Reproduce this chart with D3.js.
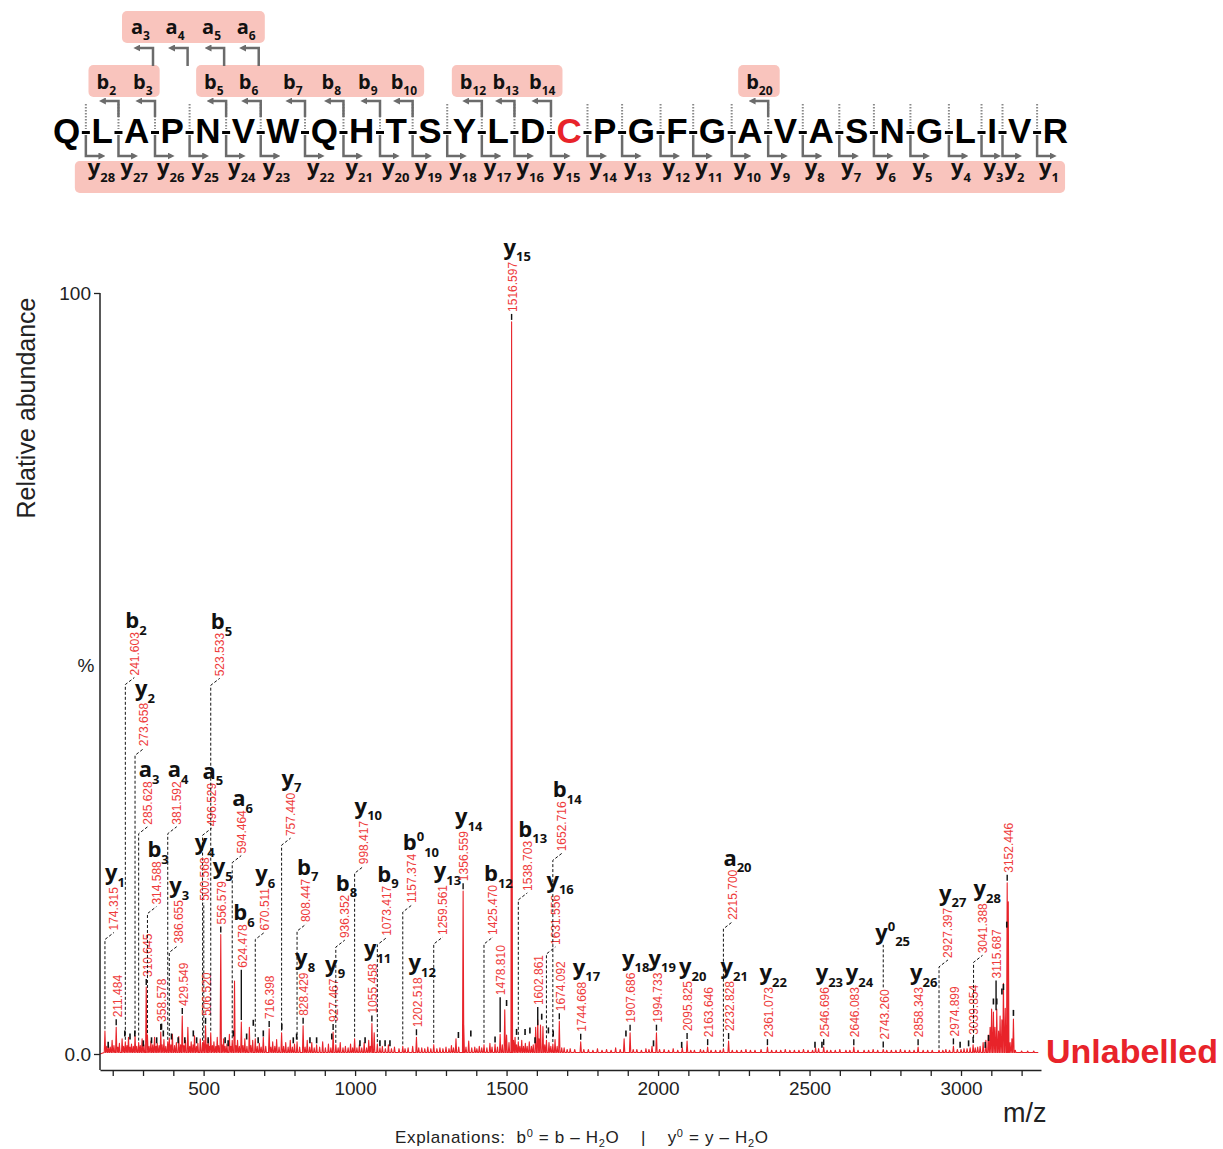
<!DOCTYPE html>
<html>
<head>
<meta charset="utf-8">
<script src="https://cdn.jsdelivr.net/npm/d3@7"></script>
<style>
  body { margin: 0; background: #fff; }
  svg { font-family: "Liberation Sans", Arial, sans-serif; }
</style>
</head>
<body>
<div id="chart"></div>
<script>
// peptide and the fragment ions that were observed
var sequence = "QLAPNVWQHTSYLDCPGFGAVASNGLIVR".split("");
var redResidue = 14;
var bIons = [2, 3, 5, 6, 7, 8, 9, 10, 12, 13, 14, 20];
var aIons = [3, 4, 5, 6];
var yIons = d3.range(1, 29);

// profile peaks: [m/z, relative abundance %]
var peaks = [
  [174.3, 3.0], [180, 1.0], [186, 1.2], [192, 0.9], [198, 1.8], [204, 1.1], [211.5, 3.5], [217, 0.9], [222, 1.4],
  [231, 2.0], [236, 1.0], [241.6, 1.6], [247, 1.1], [252, 2.2], [257, 0.9], [262, 1.3], [268, 1.0], [273.7, 2.4],
  [279, 1.0], [285.6, 1.5], [291, 1.1], [297, 2.0], [303, 1.2], [310.6, 8.8], [314.6, 2.5], [320, 1.0], [326, 1.7],
  [332, 1.2], [338, 2.2], [343, 1.0], [347, 1.4], [353, 1.1], [358.6, 2.9], [363, 1.2], [369, 1.9], [375, 1.0],
  [381.6, 1.6], [386.7, 2.1], [392, 1.2], [397, 2.6], [404, 1.1], [410, 1.5], [418, 2.3], [424, 1.2], [429.5, 5.0],
  [435, 1.1], [440, 1.8], [448, 3.5], [454, 1.0], [459, 1.6], [465, 1.2], [470, 2.4], [476, 1.0], [481, 1.4],
  [489, 2.0], [496.5, 1.5], [500.6, 1.8], [506.5, 3.7], [511, 1.2], [515, 1.9], [519, 1.0], [523.5, 2.8],
  [529, 1.1], [534, 1.6], [540, 1.0], [545, 2.2], [550, 1.1], [556.6, 15.7], [561, 1.2], [566, 2.0], [571, 1.0],
  [577, 1.3], [585, 2.6], [590, 1.0], [594.5, 1.8], [602, 9.6], [607, 1.1], [612, 1.8], [618, 1.0], [624.5, 4.2],
  [630, 1.1], [636, 2.0], [643, 1.0], [651, 3.5], [656, 1.1], [662, 1.8], [670.5, 2.0], [677, 1.0], [684, 1.4],
  [690, 0.9], [697, 2.2], [705, 1.0], [716.4, 3.3], [722, 0.9], [728, 1.6], [735, 1.0], [741, 1.9], [749, 0.9],
  [757.4, 2.8], [764, 1.0], [771, 1.5], [779, 0.9], [786, 1.8], [793, 0.9], [800, 1.3], [808.4, 1.6], [817, 0.9],
  [828.4, 3.7], [835, 0.9], [842, 1.8], [850, 0.9], [857, 1.5], [865, 0.8], [873, 1.2], [883, 0.9], [893, 1.6],
  [902, 0.8], [912, 1.3], [920, 0.8], [927.5, 2.9], [936.4, 1.2], [944, 0.8], [951, 1.5], [960, 0.8], [968, 1.0],
  [977, 0.8], [985, 1.3], [992, 0.8], [998.4, 2.0], [1006, 0.8], [1014, 1.2], [1022, 0.8], [1030, 1.5], [1038, 0.8],
  [1045, 1.8], [1050, 1.0], [1055.5, 4.0], [1063, 2.8], [1073.4, 1.3], [1082, 0.8], [1090, 1.0], [1100, 0.7],
  [1110, 1.2], [1120, 0.7], [1130, 0.9], [1145, 0.7], [1157.4, 1.0], [1165, 0.7], [1175, 0.8], [1190, 1.0],
  [1202.5, 2.2], [1210, 0.8], [1220, 0.8], [1230, 0.7], [1240, 0.9], [1250, 0.7], [1259.6, 1.2], [1270, 0.7],
  [1280, 0.8], [1290, 0.7], [1300, 0.9], [1310, 0.7], [1318, 1.1], [1325, 0.8], [1333, 2.0], [1342, 0.9],
  [1356.6, 21.4], [1358.6, 3.8], [1366, 0.9], [1375, 1.7], [1385, 0.8], [1395, 0.9], [1402, 0.7], [1410, 1.0],
  [1418, 0.8], [1425.5, 1.2], [1435, 0.8], [1445, 1.4], [1452, 0.9], [1462, 1.3], [1470, 0.9], [1478.8, 2.6],
  [1486, 1.2], [1494, 5.8], [1500, 2.5], [1508, 1.5], [1516.6, 96.2], [1517.6, 52], [1523, 1.8], [1528, 2.2],
  [1533, 1.2], [1538.7, 1.6], [1544, 1.0], [1550, 1.8], [1556, 1.0], [1562, 1.4], [1568, 1.0], [1575, 1.6],
  [1582, 1.0], [1588, 1.2], [1596, 3.5], [1602.9, 4.5], [1607, 2.0], [1612, 3.8], [1620, 3.6], [1626, 1.2],
  [1631.6, 1.8], [1640, 1.5], [1646, 1.0], [1652.7, 1.3], [1660, 1.9], [1667, 1.0], [1674.1, 4.3], [1682, 0.8],
  [1690, 0.8], [1700, 0.6], [1710, 0.7], [1725, 0.6], [1744.7, 1.6], [1755, 0.6], [1770, 0.6], [1785, 0.5],
  [1800, 0.7], [1815, 0.5], [1830, 0.6], [1845, 0.5], [1860, 0.8], [1875, 0.6], [1888, 2.0], [1907.7, 2.8],
  [1918, 0.6], [1930, 0.6], [1945, 0.5], [1960, 0.7], [1970, 0.6], [1980, 1.0], [1994.7, 2.8], [2005, 0.6],
  [2020, 0.6], [2035, 0.5], [2050, 0.7], [2065, 0.5], [2080, 0.8], [2095.8, 1.7], [2108, 0.5], [2120, 0.5],
  [2140, 0.6], [2150, 0.5], [2163.6, 0.9], [2175, 0.5], [2190, 0.5], [2205, 0.5], [2215.7, 0.7], [2232.8, 1.7],
  [2245, 0.5], [2260, 0.5], [2275, 0.5], [2290, 0.6], [2305, 0.5], [2320, 0.5], [2340, 0.6], [2361.1, 0.9],
  [2375, 0.5], [2390, 0.5], [2405, 0.5], [2420, 0.6], [2435, 0.5], [2450, 0.5], [2465, 0.5], [2480, 0.6],
  [2495, 0.5], [2510, 0.5], [2520, 0.8], [2530, 0.7], [2546.7, 0.9], [2558, 0.5], [2570, 0.5], [2585, 0.5],
  [2600, 0.6], [2620, 0.5], [2633, 0.5], [2646.1, 0.9], [2660, 0.5], [2680, 0.5], [2695, 0.5], [2710, 0.6],
  [2725, 0.5], [2743.3, 0.6], [2755, 0.5], [2770, 0.5], [2785, 0.5], [2800, 0.6], [2815, 0.5], [2830, 0.5],
  [2845, 0.5], [2858.3, 0.9], [2875, 0.5], [2890, 0.5], [2905, 0.5], [2927.4, 0.5], [2940, 0.5], [2950, 0.6],
  [2962, 0.5], [2974.9, 1.0], [2988, 0.6], [3000, 0.6], [3010, 0.7], [3020, 0.7], [3030, 0.8], [3039.9, 1.2],
  [3047, 0.8], [3055, 0.9], [3063, 1.0], [3073, 1.5], [3082, 1.8], [3090, 2.5], [3096, 3.5],
  [3101, 5.9], [3107, 5.5], [3112, 3.5], [3118, 5.9], [3124, 3.0], [3129, 5.0], [3135, 4.5], [3140, 9.3],
  [3146, 6.0], [3152.4, 22.5], [3156, 20.0], [3162, 1.5], [3168, 2.0], [3173, 4.6], [3179, 0.5], [3200, 0.4],
  [3220, 0.4], [3240, 0.4]
];

// black centroid marks near the baseline: [m/z, %]
var marks = [
  [185, 1.2], [240, 2.7], [257, 2.3], [273, 2.7], [301, 1.4], [328, 1.8], [345, 1.8], [361, 3.6], [367, 2.7],
  [394, 2.3], [416, 1.8], [438, 1.8], [466, 2.7], [477, 1.8], [515, 1.8], [571, 1.8], [581, 1.4], [598, 2.7],
  [642, 2.3], [664, 4.1], [680, 1.8], [697, 2.7], [758, 3.6], [796, 1.8], [807, 2.3], [851, 1.8], [873, 1.8],
  [923, 2.3], [1016, 1.4], [1033, 1.8], [1082, 1.4], [1099, 1.4], [1115, 1.4], [1341, 2.5], [1382, 2.7],
  [1462, 1.9], [1500, 6.7], [1533, 2.9], [1561, 2.9], [1577, 3.1], [1594, 1.8], [1616, 4.9], [1638, 3.1],
  [1654, 2.7], [1894, 2.7], [1985, 1.4], [2078, 1.2], [2518, 1.2], [2541, 1.2], [2997, 1.2], [3025, 1.4],
  [3080, 1.2], [3091, 2.1], [3107, 6.9], [3118, 6.9], [3135, 8.2], [3140, 8.8], [3151, 17], [3173, 5.4]
];

// labelled peaks: m/z, peak height %, label level %, ion [letter, number, superscript]
var annotations = [
  { mz: 174.315, h: 3.0, lvl: 16.1, ion: ["y", "1"] },
  { mz: 211.484, h: 3.5 },
  { mz: 241.603, h: 1.6, lvl: 49.6, ion: ["b", "2"] },
  { mz: 273.658, h: 2.4, lvl: 40.3, ion: ["y", "2"] },
  { mz: 285.628, h: 1.5, lvl: 30.0, ion: ["a", "3"] },
  { mz: 310.645, h: 8.8 },
  { mz: 314.588, h: 2.5, lvl: 19.5, ion: ["b", "3"] },
  { mz: 358.578, h: 2.9 },
  { mz: 381.592, h: 1.6, lvl: 30.0, ion: ["a", "4"] },
  { mz: 386.655, h: 2.1, lvl: 14.4, ion: ["y", "3"] },
  { mz: 429.549, h: 5.0 },
  { mz: 496.529, h: 1.5, lvl: 29.8, ion: ["a", "5"] },
  { mz: 500.568, h: 1.8, lvl: 20.0, straight: true, ion: ["y", "4"] },
  { mz: 506.520, h: 3.7 },
  { mz: 523.533, h: 2.8, lvl: 49.5, ion: ["b", "5"] },
  { mz: 556.579, h: 15.7, ion: ["y", "5"] },
  { mz: 594.464, h: 1.8, lvl: 26.2, ion: ["a", "6"] },
  { mz: 624.478, h: 4.2, lvl: 11.2, ion: ["b", "6"] },
  { mz: 670.511, h: 2.0, lvl: 16.1, ion: ["y", "6"] },
  { mz: 716.398, h: 3.3 },
  { mz: 757.440, h: 2.8, lvl: 28.5, ion: ["y", "7"] },
  { mz: 808.447, h: 1.6, lvl: 17.2, ion: ["b", "7"] },
  { mz: 828.429, h: 3.7, ion: ["y", "8"] },
  { mz: 927.467, h: 2.9, ion: ["y", "9"] },
  { mz: 936.352, h: 1.2, lvl: 15.1, ion: ["b", "8"] },
  { mz: 998.417, h: 2.0, lvl: 24.8, ion: ["y", "10"] },
  { mz: 1055.458, h: 4.0, ion: ["y", "11"] },
  { mz: 1073.417, h: 1.3, lvl: 15.4, ion: ["b", "9"] },
  { mz: 1157.374, h: 1.0, lvl: 19.7, ion: ["b", "10", "0"] },
  { mz: 1202.518, h: 2.2, ion: ["y", "12"] },
  { mz: 1259.561, h: 1.2, lvl: 15.5, ion: ["y", "13"] },
  { mz: 1356.559, h: 21.4, ion: ["y", "14"] },
  { mz: 1425.470, h: 1.2, lvl: 15.5, ion: ["b", "12"] },
  { mz: 1478.810, h: 2.6, lvl: 7.6 },
  { mz: 1516.597, h: 96.2, ion: ["y", "15"] },
  { mz: 1538.703, h: 1.6, lvl: 21.3, ion: ["b", "13"] },
  { mz: 1602.861, h: 3.5, lvl: 6.3 },
  { mz: 1631.556, h: 1.8, lvl: 14.2, ion: ["y", "16"] },
  { mz: 1652.716, h: 1.3, lvl: 26.5, ion: ["b", "14"] },
  { mz: 1674.092, h: 4.3 },
  { mz: 1744.668, h: 1.6, ion: ["y", "17"] },
  { mz: 1907.686, h: 2.8, ion: ["y", "18"] },
  { mz: 1994.733, h: 2.8, ion: ["y", "19"] },
  { mz: 2095.825, h: 1.7, ion: ["y", "20"] },
  { mz: 2163.646, h: 0.9 },
  { mz: 2215.700, h: 0.7, lvl: 17.5, ion: ["a", "20"] },
  { mz: 2232.828, h: 1.7, ion: ["y", "21"] },
  { mz: 2361.073, h: 0.9, ion: ["y", "22"] },
  { mz: 2546.696, h: 0.9, ion: ["y", "23"] },
  { mz: 2646.083, h: 0.9, ion: ["y", "24"] },
  { mz: 2743.260, h: 0.6, up: 15.0, ion: ["y", "25", "0"] },
  { mz: 2858.343, h: 0.9, ion: ["y", "26"] },
  { mz: 2927.397, h: 0.5, lvl: 12.5, ion: ["y", "27"] },
  { mz: 2974.899, h: 1.0 },
  { mz: 3039.854, h: 1.2 },
  { mz: 3041.388, h: 1.2, lvl: 13.1, ion: ["y", "28"] },
  { mz: 3115.687, h: 5.5, lvl: 9.8 },
  { mz: 3152.446, h: 22.5 }
];

var xTicks = d3.range(200, 3300, 100);

var red = "#e8232a", redText = "#ee3b3b", grey = "#6b6b6b", pink = "#f9c4bd";
var labelFont = "'Open Sans', 'Noto Sans', sans-serif";

var svg = d3.select("#chart").append("svg").attr("width", 1223).attr("height", 1149);

var x = d3.scaleLinear().domain([158, 3264]).range([100, 1041]);
var y = d3.scaleLinear().domain([0, 100]).range([1054, 293]);

svg.append("defs").append("marker")
  .attr("id", "ah").attr("viewBox", "0 0 10 10").attr("refX", 2).attr("refY", 5)
  .attr("markerWidth", 7).attr("markerHeight", 7).attr("markerUnits", "userSpaceOnUse")
  .attr("orient", "auto")
  .append("path").attr("d", "M0,0L10,5L0,10z").attr("fill", grey);

// letter with subscript (and optional superscript)
function ionLabel(g, lx, ly, ion, size, sub) {
  var t = g.append("text").attr("x", lx).attr("y", ly)
    .style("font-family", labelFont).style("font-weight", "bold")
    .style("font-size", size + "px").attr("fill", "#111");
  t.append("tspan").text(ion[0]);
  var drop = size * 0.3;
  if (ion[2]) {
    t.append("tspan").attr("dy", -size * 0.42).style("font-size", sub + "px").text(ion[2]);
    drop = size * 0.42 + size * 0.3;
  }
  t.append("tspan").attr("dy", drop).style("font-size", sub + "px").text(ion[1]);
  return t;
}

/* ---------- sequence diagram ---------- */
var seqG = svg.append("g");
var boxG = seqG.append("g");
var lineG = seqG.append("g");
var labG = seqG.append("g");

var letters = seqG.selectAll("text.res").data(sequence).enter().append("text")
  .attr("class", "res")
  .attr("y", 143)
  .style("font-size", "35px").style("font-weight", "bold")
  .attr("fill", function (d, i) { return i === redResidue ? red : "#000"; })
  .text(function (d) { return d; });

var widths = letters.nodes().map(function (n) { return n.getComputedTextLength(); });
var gap = (1015 - d3.sum(widths)) / (sequence.length - 1);
var letterX = [], cleave = [];
var cur = 53;
widths.forEach(function (w, i) {
  letterX.push(cur);
  cur += w;
  if (i < widths.length - 1) { cleave.push(cur + gap / 2); cur += gap; }
});
letters.attr("x", function (d, i) { return letterX[i]; });

cleave.forEach(function (cx) {
  lineG.append("line").attr("x1", cx).attr("x2", cx).attr("y1", 104).attr("y2", 129)
    .attr("stroke", "#8a8a8a").attr("stroke-width", 2).attr("stroke-dasharray", "1.5,1.5");
  lineG.append("rect").attr("x", cx - 4).attr("y", 131).attr("width", 8).attr("height", 3).attr("fill", "#000");
});

function arrow(d) {
  lineG.append("path").attr("d", d).attr("fill", "none").attr("stroke", grey)
    .attr("stroke-width", 2.5).attr("marker-end", "url(#ah)");
}

var bLabs = [], aLabs = [], yLabs = [];
bIons.forEach(function (n) {
  var cx = cleave[n - 1];
  arrow("M" + cx + ",117V101H" + (cx - 14));
  bLabs.push(ionLabel(labG, cx - 22, 89, ["b", String(n)], 20, 12));
});
aIons.forEach(function (n) {
  var cx = cleave[n - 1] - 2;
  arrow("M" + cx + ",66V48H" + (cx - 14));
  aLabs.push(ionLabel(labG, cx - 22, 34, ["a", String(n)], 20, 12));
});
yIons.forEach(function (n) {
  var cx = cleave[sequence.length - 1 - n];
  arrow("M" + cx + ",135V156H" + (cx + 14));
  yLabs.push(ionLabel(labG, cx + 2, 175, ["y", String(n)], 22, 13));
});

function boxes(list, nums, top, padL, padR) {
  var groups = [], curG = null;
  nums.forEach(function (n, i) {
    if (!curG || n !== nums[i - 1] + 1) { curG = []; groups.push(curG); }
    curG.push(list[i].node().getBBox());
  });
  groups.forEach(function (g) {
    var x0 = d3.min(g, function (b) { return b.x; }) - padL;
    var x1 = d3.max(g, function (b) { return b.x + b.width; }) + padR;
    boxG.append("rect").attr("x", x0).attr("y", top).attr("width", x1 - x0).attr("height", 32)
      .attr("rx", 5).attr("fill", pink);
  });
}
boxes(bLabs, bIons, 65, 8, 7);
boxes(aLabs, aIons, 11, 9, 9);
boxes(yLabs, yIons, 161, 13, 6);

/* ---------- spectrum ---------- */
var pts = [[158, 0]];
peaks.slice().sort(function (a, b) { return a[0] - b[0]; }).forEach(function (p) {
  pts.push([p[0] - 2.2, 0.2], [p[0], p[1]], [p[0] + 2.2, 0.2]);
});
pts.push([3255, 0.2]);

var line = d3.line().x(function (d) { return x(d[0]); }).y(function (d) { return y(d[1]); });
svg.append("path").attr("d", line(pts)).attr("fill", "none").attr("stroke", red)
  .attr("stroke-width", 1.1).attr("stroke-linejoin", "round");

svg.append("g").selectAll("line").data(marks).enter().append("line")
  .attr("x1", function (d) { return x(d[0]); }).attr("x2", function (d) { return x(d[0]); })
  .attr("y1", function (d) { return y(d[1]) - 3; }).attr("y2", function (d) { return y(d[1]) + 3; })
  .attr("stroke", "#111").attr("stroke-width", 1.6);

var annG = svg.append("g");
annotations.forEach(function (a) {
  var xp = x(a.mz), yp = y(a.h);
  var yt = a.lvl != null ? y(a.lvl) : yp - 9;
  var long = (yp - yt) > 70;
  var kink = long && !a.straight;
  var tx = kink ? xp + 9 : xp + 1;
  if (long) {
    var d = kink ? "M" + xp + "," + (yp - 2) + "V" + (yt + 8) + "L" + tx + "," + (yt + 1)
                 : "M" + xp + "," + (yp - 2) + "V" + (yt + 1);
    annG.append("path").attr("d", d)
      .attr("fill", "none").attr("stroke", "#111").attr("stroke-width", 1).attr("stroke-dasharray", "3,2");
  } else {
    annG.append("line").attr("x1", xp).attr("x2", xp).attr("y1", yp - 2).attr("y2", yt + 1)
      .attr("stroke", "#111").attr("stroke-width", 1.4);
  }
  var txt = annG.append("text")
    .attr("transform", "translate(" + (tx + 4.3) + "," + (yt - 1) + ") rotate(-90)")
    .style("font-size", "12px").attr("fill", redText)
    .text(a.mz.toFixed(3));
  var yEnd = yt - 1 - txt.node().getComputedTextLength();
  if (a.ion) {
    var ly;
    if (a.up != null) {
      annG.append("line").attr("x1", xp).attr("x2", xp).attr("y1", yEnd - 2).attr("y2", y(a.up) + 5)
        .attr("stroke", "#111").attr("stroke-width", 1).attr("stroke-dasharray", "3,2");
      ly = y(a.up);
    } else {
      ly = yEnd - (a.ion[0] === "y" ? 7 : 4);
    }
    ionLabel(annG, tx - (a.straight ? 10 : 9), ly, a.ion, 22, 13);
  }
});

/* ---------- axes ---------- */
var xAxis = svg.append("g").attr("transform", "translate(0,1070)")
  .call(d3.axisBottom(x).tickValues(xTicks)
    .tickFormat(function (d) { return d % 500 === 0 ? d : ""; })
    .tickSize(6).tickSizeOuter(0).tickPadding(6));
xAxis.select(".domain").attr("stroke", "#222").attr("stroke-width", 1.5);
xAxis.selectAll(".tick line").attr("stroke", "#222").attr("stroke-width", 1.3);
xAxis.selectAll(".tick text").style("font-size", "19px").attr("fill", "#222")
  .style("font-family", "'Liberation Sans', Arial, sans-serif");

var yAxis = svg.append("g").attr("transform", "translate(100,0)")
  .call(d3.axisLeft(y).tickValues([0, 100])
    .tickFormat(function (d) { return d === 0 ? "0.0" : "100"; })
    .tickSize(6).tickSizeOuter(0).tickPadding(3));
yAxis.select(".domain").remove();
yAxis.selectAll(".tick line").attr("stroke", "#222").attr("stroke-width", 1.3);
yAxis.selectAll(".tick text").style("font-size", "19px").attr("fill", "#222")
  .style("font-family", "'Liberation Sans', Arial, sans-serif");
svg.append("line").attr("x1", 100).attr("x2", 100).attr("y1", 293).attr("y2", 1070)
  .attr("stroke", "#222").attr("stroke-width", 1.5);

svg.append("text").attr("x", 86).attr("y", 672).attr("text-anchor", "middle")
  .style("font-size", "19px").attr("fill", "#222").text("%");

svg.append("text").attr("transform", "translate(35,408) rotate(-90)").attr("text-anchor", "middle")
  .style("font-size", "25px").attr("fill", "#222").text("Relative abundance");

svg.append("text").attr("x", 1003).attr("y", 1122)
  .style("font-size", "27px").attr("fill", "#222").text("m/z");

svg.append("text").attr("x", 1046).attr("y", 1063)
  .style("font-size", "34px").style("font-weight", "bold").attr("fill", red).text("Unlabelled");

var ex = svg.append("text").attr("x", 395).attr("y", 1143)
  .attr("textLength", 373).attr("lengthAdjust", "spacing")
  .style("font-size", "17px").style("white-space", "pre").attr("fill", "#222");
ex.append("tspan").text("Explanations:  b");
ex.append("tspan").attr("dy", -6).style("font-size", "11px").text("0");
ex.append("tspan").attr("dy", 6).text(" = b \u2013 H");
ex.append("tspan").attr("dy", 4).style("font-size", "11px").text("2");
ex.append("tspan").attr("dy", -4).text("O    |    y");
ex.append("tspan").attr("dy", -6).style("font-size", "11px").text("0");
ex.append("tspan").attr("dy", 6).text(" = y \u2013 H");
ex.append("tspan").attr("dy", 4).style("font-size", "11px").text("2");
ex.append("tspan").attr("dy", -4).text("O");
</script>
</body>
</html>
